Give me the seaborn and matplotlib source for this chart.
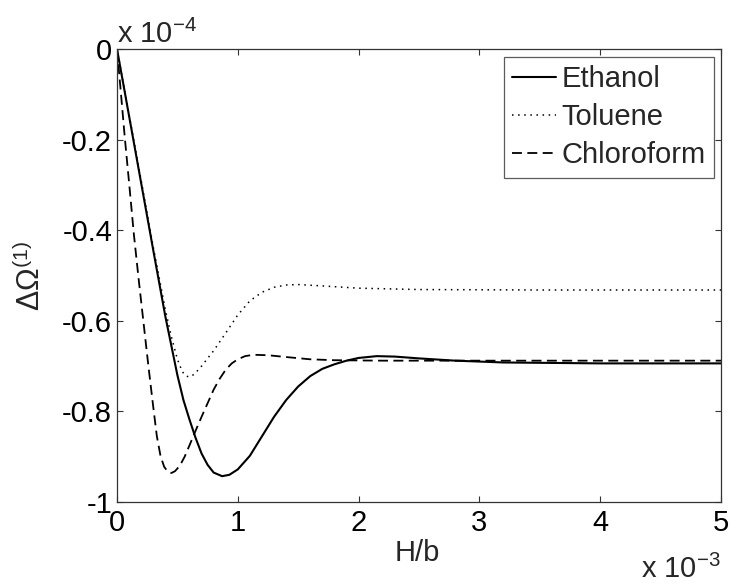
import matplotlib
matplotlib.use("Agg")
import matplotlib.pyplot as plt
import seaborn as sns
import pandas as pd

# ---- data (x in units of 1e-3, y in units of 1e-4) ----
eth_x = [0, 0.1, 0.2, 0.3, 0.4, 0.5, 0.55, 0.6, 0.65, 0.7, 0.75, 0.8, 0.87, 0.93, 1.0, 1.1,
         1.2, 1.3, 1.4, 1.5, 1.6, 1.7, 1.8, 1.9, 2.0, 2.15, 2.3, 2.5, 2.8, 3.2, 4.0, 5.0]
eth_y = [0, -0.148, -0.296, -0.444, -0.59, -0.72, -0.775, -0.818, -0.858, -0.893, -0.918,
         -0.935, -0.943, -0.940, -0.928, -0.898, -0.855, -0.812, -0.775, -0.745, -0.722,
         -0.706, -0.696, -0.688, -0.682, -0.678, -0.679, -0.683, -0.688, -0.692, -0.694, -0.694]

tol_x = [0, 0.1, 0.2, 0.3, 0.4, 0.45, 0.5, 0.54, 0.57, 0.6, 0.64, 0.7, 0.8, 0.9, 1.0, 1.1,
         1.2, 1.3, 1.4, 1.5, 1.7, 2.0, 2.5, 3.5, 5.0]
tol_y = [0, -0.145, -0.29, -0.437, -0.575, -0.635, -0.685, -0.712, -0.722, -0.724, -0.718,
         -0.70, -0.666, -0.627, -0.587, -0.556, -0.537, -0.526, -0.521, -0.520, -0.523,
         -0.528, -0.531, -0.532, -0.532]

chl_x = [0, 0.03, 0.066, 0.1, 0.14, 0.18, 0.22, 0.26, 0.30, 0.33, 0.36, 0.39, 0.42, 0.45,
         0.48, 0.52, 0.56, 0.60, 0.65, 0.70, 0.75, 0.80, 0.85, 0.90, 0.95, 1.00, 1.06, 1.13,
         1.25, 1.4, 1.6, 1.8, 2.2, 3.0, 5.0]
chl_y = [0, -0.09, -0.20, -0.295, -0.41, -0.51, -0.605, -0.70, -0.79, -0.855, -0.898,
         -0.922, -0.933, -0.936, -0.932, -0.92, -0.90, -0.875, -0.843, -0.812, -0.782,
         -0.752, -0.728, -0.708, -0.694, -0.685, -0.678, -0.675, -0.676, -0.680, -0.685,
         -0.687, -0.688, -0.688, -0.688]

series_names = ["Ethanol", "Toluene", "Chloroform"]
x_ticks = [0, 1, 2, 3, 4, 5]
x_ticklabels = ["0", "1", "2", "3", "4", "5"]
y_ticks = [-1, -0.8, -0.6, -0.4, -0.2, 0]
y_ticklabels = ["-1", "-0.8", "-0.6", "-0.4", "-0.2", "0"]

sns.set_style("white")
plt.rcParams["font.family"] = ["Liberation Sans", "DejaVu Sans"]
plt.rcParams["mathtext.fontset"] = "custom"
plt.rcParams["mathtext.rm"] = "Liberation Sans"
plt.rcParams["mathtext.it"] = "Liberation Sans:italic"
plt.rcParams["mathtext.default"] = "regular"

FS = 21

fig = plt.figure(figsize=(7.32, 5.88), dpi=100)
ax = fig.add_axes([117 / 732, 1 - 502 / 588, (721 - 117) / 732, (502 - 49) / 588])

df_e = pd.DataFrame({"x": eth_x, "y": eth_y})
df_t = pd.DataFrame({"x": tol_x, "y": tol_y})
df_c = pd.DataFrame({"x": chl_x, "y": chl_y})

sns.lineplot(data=df_e, x="x", y="y", ax=ax, color="black", lw=1.5, label=series_names[0], sort=False)
sns.lineplot(data=df_t, x="x", y="y", ax=ax, color="black", lw=1.1, label=series_names[1], sort=False)
ax.lines[-1].set_dashes([1, 3])
sns.lineplot(data=df_c, x="x", y="y", ax=ax, color="black", lw=1.3, label=series_names[2], sort=False)
ax.lines[-1].set_dashes([5.5, 3])

ax.set_xlim(0, 5)
ax.set_ylim(-1, 0)
ax.set_xticks(x_ticks)
ax.set_xticklabels(x_ticklabels)
ax.set_yticks(y_ticks)
ax.set_yticklabels(y_ticklabels)
ax.tick_params(direction="in", bottom=True, left=True, top=True, right=True, length=4,
               width=0.8, colors="#333333", labelcolor="black", labelsize=FS)
ax.tick_params(axis="x", pad=5)
ax.tick_params(axis="y", pad=3.5)
for s in ax.spines.values():
    s.set_color("#333333")
    s.set_linewidth(0.9)

ax.set_xlabel("H/b", fontsize=FS)
ax.xaxis.set_label_coords(0.497, -0.082)
ax.set_ylabel(r"$\Delta\Omega^{(1)}$", fontsize=22)
ax.yaxis.set_label_coords(-0.116, 0.5)

fig.text(117 / 732, 1 - 43 / 588, r"x 10$^{-4}$", fontsize=FS, ha="left", va="baseline")
fig.text(721 / 732, 1 - 578 / 588, r"x 10$^{-3}$", fontsize=FS, ha="right", va="baseline")

leg = ax.legend(loc="upper right", bbox_to_anchor=(0.989, 0.983), borderaxespad=0,
                fontsize=FS, frameon=True, fancybox=False, handlelength=1.48,
                handletextpad=0.2, labelspacing=0.34, borderpad=0.3)
leg.get_frame().set_edgecolor("#333333")
leg.get_frame().set_linewidth(0.9)

fig.savefig("out.png", dpi=100)
